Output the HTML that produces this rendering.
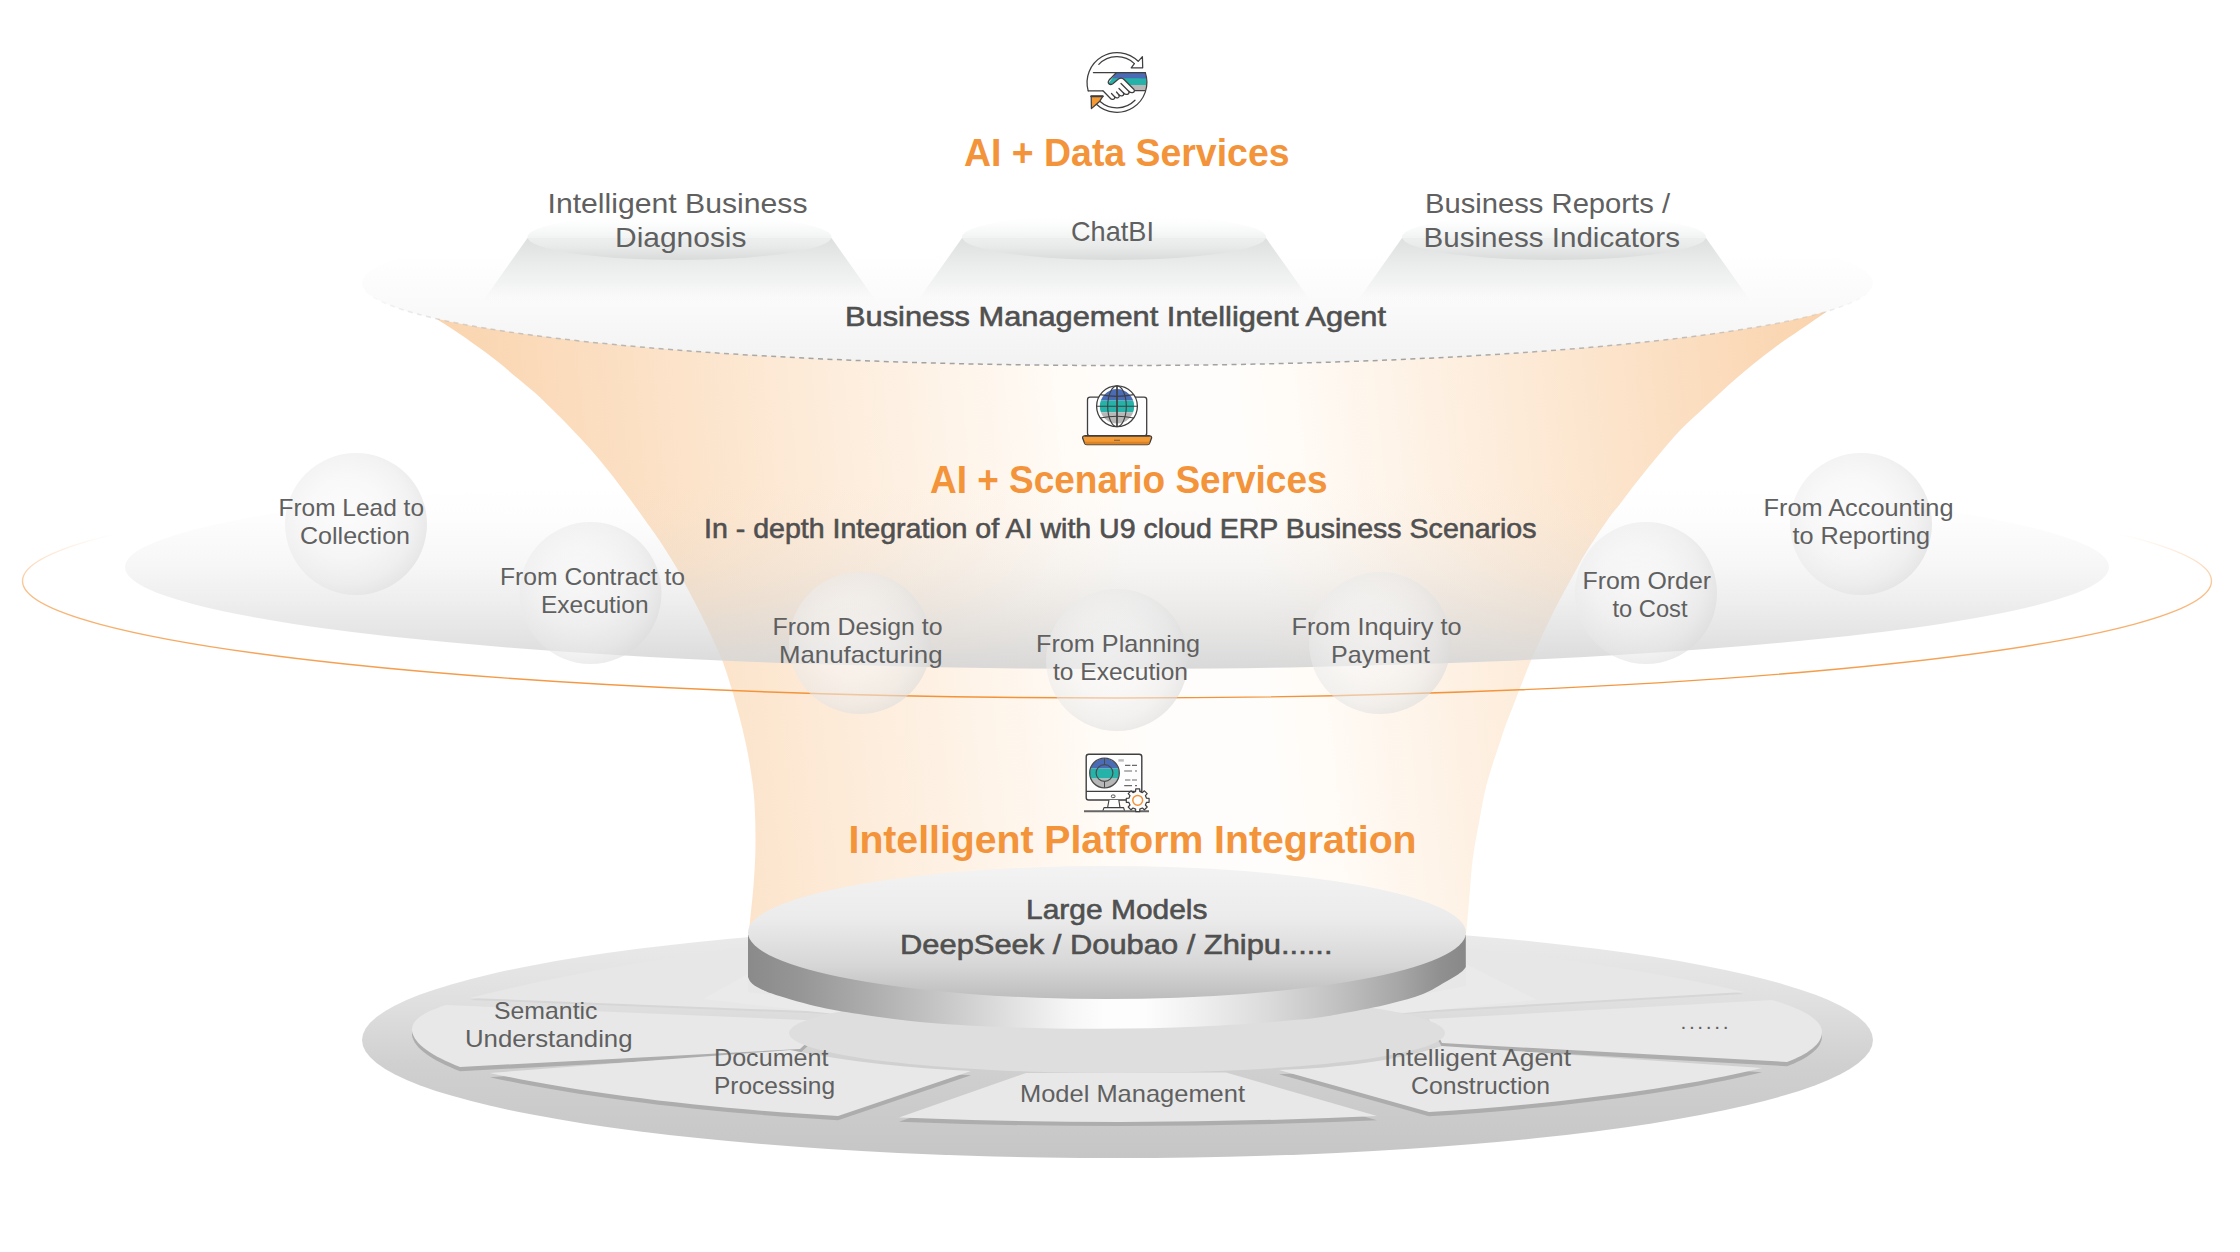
<!DOCTYPE html>
<html lang="en">
<head>
<meta charset="utf-8">
<title>AI Services Architecture</title>
<style>
html,body{margin:0;padding:0;background:#fff;}
body{width:2240px;height:1252px;overflow:hidden;font-family:"Liberation Sans",sans-serif;}
svg{display:block;}
text{font-family:"Liberation Sans",sans-serif;}
.h{font-weight:bold;fill:#f3933a;}
.m{fill:#505050;stroke:#505050;stroke-width:0.6;}
.r{fill:#606060;}
</style>
</head>
<body>
<svg width="2240" height="1252" viewBox="0 0 2240 1252">
<defs>
<linearGradient id="gFunnel" gradientUnits="userSpaceOnUse" x1="437" y1="380" x2="1809.3" y2="242.8">
  <stop offset="0" stop-color="#fad4ae"/>
  <stop offset="0.4500" stop-color="#fffbf6"/>
  <stop offset="0.4900" stop-color="#fffdfb"/>
  <stop offset="0.5750" stop-color="#fffdfb"/>
  <stop offset="0.6150" stop-color="#fffbf6"/>
  <stop offset="1" stop-color="#fad4ae"/>
</linearGradient>
<linearGradient id="gTopEll" x1="0" y1="0" x2="0" y2="1">
  <stop offset="0" stop-color="#ffffff"/>
  <stop offset="0.32" stop-color="#ffffff"/>
  <stop offset="0.62" stop-color="#fafafa"/>
  <stop offset="1" stop-color="#f2f2f3"/>
</linearGradient>
<linearGradient id="gDash" gradientUnits="userSpaceOnUse" x1="362" y1="0" x2="1873" y2="0">
  <stop offset="0" stop-color="#b4b4b4" stop-opacity="0"/>
  <stop offset="0.03" stop-color="#b4b4b4" stop-opacity="0.25"/>
  <stop offset="0.12" stop-color="#b4b4b4" stop-opacity="0.8"/>
  <stop offset="0.3" stop-color="#a2a2a2" stop-opacity="1"/>
  <stop offset="0.7" stop-color="#a2a2a2" stop-opacity="1"/>
  <stop offset="0.88" stop-color="#b4b4b4" stop-opacity="0.8"/>
  <stop offset="0.97" stop-color="#b4b4b4" stop-opacity="0.25"/>
  <stop offset="1" stop-color="#b4b4b4" stop-opacity="0"/>
</linearGradient>
<linearGradient id="gPodTop" x1="0" y1="0" x2="0" y2="1">
  <stop offset="0" stop-color="#ffffff" stop-opacity="0"/>
  <stop offset="0.3" stop-color="#f7f8f8" stop-opacity="0.7"/>
  <stop offset="0.7" stop-color="#e9ebeb"/>
  <stop offset="1" stop-color="#d9dbdb"/>
</linearGradient>
<linearGradient id="gPodBody" gradientUnits="userSpaceOnUse" x1="0" y1="236" x2="0" y2="303">
  <stop offset="0" stop-color="#dddfdf"/>
  <stop offset="0.32" stop-color="#e7e9e9"/>
  <stop offset="0.7" stop-color="#f0f1f1" stop-opacity="0.85"/>
  <stop offset="1" stop-color="#f6f6f6" stop-opacity="0"/>
</linearGradient>
<linearGradient id="gDisc" gradientUnits="userSpaceOnUse" x1="0" y1="465" x2="0" y2="669">
  <stop offset="0" stop-color="#d6d6d6" stop-opacity="0"/>
  <stop offset="0.10" stop-color="#d6d6d6" stop-opacity="0"/>
  <stop offset="0.27" stop-color="#d6d6d6" stop-opacity="0.05"/>
  <stop offset="0.50" stop-color="#d6d6d6" stop-opacity="0.21"/>
  <stop offset="0.66" stop-color="#d6d6d6" stop-opacity="0.40"/>
  <stop offset="0.80" stop-color="#d6d6d6" stop-opacity="0.60"/>
  <stop offset="0.90" stop-color="#d6d6d6" stop-opacity="0.76"/>
  <stop offset="1" stop-color="#d6d6d6" stop-opacity="0.92"/>
</linearGradient>
<linearGradient id="gRing" gradientUnits="userSpaceOnUse" x1="0" y1="464" x2="0" y2="698">
  <stop offset="0" stop-color="#f39237" stop-opacity="0"/>
  <stop offset="0.30" stop-color="#f39237" stop-opacity="0"/>
  <stop offset="0.55" stop-color="#f39237" stop-opacity="0.6"/>
  <stop offset="1" stop-color="#f39237" stop-opacity="1"/>
</linearGradient>
<radialGradient id="gSphere" cx="0.43" cy="0.46" r="0.62">
  <stop offset="0" stop-color="#fafafa" stop-opacity="0.58"/>
  <stop offset="0.45" stop-color="#f4f4f4" stop-opacity="0.57"/>
  <stop offset="0.75" stop-color="#e9e9e9" stop-opacity="0.57"/>
  <stop offset="0.92" stop-color="#dddddd" stop-opacity="0.6"/>
  <stop offset="1" stop-color="#d2d2d2" stop-opacity="0.62"/>
</radialGradient>
<linearGradient id="gPlat" gradientUnits="userSpaceOnUse" x1="0" y1="922" x2="0" y2="1158">
  <stop offset="0" stop-color="#ececec"/>
  <stop offset="0.35" stop-color="#dfdfdf"/>
  <stop offset="0.6" stop-color="#d0d0d0"/>
  <stop offset="1" stop-color="#c6c6c6"/>
</linearGradient>
<linearGradient id="gCylSide" gradientUnits="userSpaceOnUse" x1="748" y1="0" x2="1466" y2="0">
  <stop offset="0.0000" stop-color="#8a8a8a"/>
  <stop offset="0.0724" stop-color="#969696"/>
  <stop offset="0.1699" stop-color="#adadad"/>
  <stop offset="0.2674" stop-color="#c6c6c6"/>
  <stop offset="0.3649" stop-color="#e0e0e0"/>
  <stop offset="0.4485" stop-color="#f6f6f6"/>
  <stop offset="0.4972" stop-color="#fdfdfd"/>
  <stop offset="0.5529" stop-color="#fdfdfd"/>
  <stop offset="0.6295" stop-color="#efefef"/>
  <stop offset="0.7270" stop-color="#dadada"/>
  <stop offset="0.8245" stop-color="#c0c0c0"/>
  <stop offset="0.9081" stop-color="#a6a6a6"/>
  <stop offset="0.9638" stop-color="#909090"/>
  <stop offset="1.0000" stop-color="#888888"/>
</linearGradient>
<linearGradient id="gCylTop" x1="0" y1="0" x2="0" y2="1">
  <stop offset="0" stop-color="#f3f3f3"/>
  <stop offset="0.4" stop-color="#ebebeb"/>
  <stop offset="0.75" stop-color="#d6d6d6"/>
  <stop offset="1" stop-color="#bdbdbd"/>
</linearGradient>
<clipPath id="cpI1"><circle cx="1117" cy="82.5" r="29.8"/></clipPath><clipPath id="cpI2"><circle cx="1117" cy="406.3" r="17.2"/></clipPath><clipPath id="cpI3"><circle cx="1104.5" cy="773" r="14.6"/></clipPath></defs>
<rect width="2240" height="1252" fill="#ffffff"/>
<ellipse cx="1117.5" cy="1040" rx="755.5" ry="118" fill="url(#gPlat)"/>
<path d="M470,998 C560,975 660,958 760,945 L830,1012 Z" fill="#d6d6d6" transform="translate(0,2)"/>
<path d="M470,998 C560,975 660,958 760,945 L830,1012 Z" fill="#e7e7e7"/>
<path d="M1744,992 C1660,972 1560,958 1465,948 L1401,1012 Z" fill="#d6d6d6" transform="translate(0,2)"/>
<path d="M1744,992 C1660,972 1560,958 1465,948 L1401,1012 Z" fill="#e7e7e7"/>
<path d="M748,974 L703,999 L835,1014 L900,1010 L748,992 Z" fill="#eaeaea"/>
<path d="M1466,964 L1537,1000 L1405,1013 L1340,1010 L1466,986 Z" fill="#eaeaea"/>
<path d="M446,1005 C420,1013 411,1022 412,1031 C414,1044 432,1056 460,1067 L800,1049 L830,1021 Z" fill="#adadad" transform="translate(0,4.2)"/>
<path d="M446,1005 C420,1013 411,1022 412,1031 C414,1044 432,1056 460,1067 L800,1049 L830,1021 Z" fill="#e8e8e8"/>
<path d="M1772,1000 C1806,1010 1822,1021 1822,1032 C1822,1044 1808,1054 1787,1062 L1442,1043 L1429,1019 Z" fill="#adadad" transform="translate(0,4.2)"/>
<path d="M1772,1000 C1806,1010 1822,1021 1822,1032 C1822,1044 1808,1054 1787,1062 L1442,1043 L1429,1019 Z" fill="#e8e8e8"/>
<path d="M490,1073 L790,1050 C850,1062 910,1068 971,1071 L838,1116 C700,1108 580,1093 490,1073 Z" fill="#adadad" transform="translate(0,4.2)"/>
<path d="M490,1073 L790,1050 C850,1062 910,1068 971,1071 L838,1116 C700,1108 580,1093 490,1073 Z" fill="#e8e8e8"/>
<path d="M1762,1068 L1442,1046 C1400,1060 1340,1068 1279,1070 L1429,1112 C1560,1104 1680,1088 1762,1068 Z" fill="#adadad" transform="translate(0,4.2)"/>
<path d="M1762,1068 L1442,1046 C1400,1060 1340,1068 1279,1070 L1429,1112 C1560,1104 1680,1088 1762,1068 Z" fill="#e8e8e8"/>
<path d="M1026,1073 L1226,1072.5 L1377,1116 Q1138,1127 899,1117.5 Z" fill="#adadad" transform="translate(0,4.2)"/>
<path d="M1026,1073 L1226,1072.5 L1377,1116 Q1138,1127 899,1117.5 Z" fill="#e8e8e8"/>
<ellipse cx="1117" cy="1033" rx="328" ry="40" fill="#dedede"/>
<path d="M436.4,318.8 C440.7,321.6 452.4,329.0 462.0,335.6 C471.6,342.2 485.0,351.8 494.0,358.7 C503.0,365.6 509.0,371.1 516.0,376.9 C523.0,382.7 529.7,388.1 535.8,393.5 C541.9,398.9 546.7,403.9 552.4,409.5 C558.1,415.1 563.9,420.8 570.0,427.2 C576.1,433.6 582.8,440.5 589.2,447.8 C595.6,455.1 602.0,462.8 608.4,470.8 C614.8,478.8 621.4,487.5 627.5,495.7 C633.6,503.9 639.5,512.3 644.8,519.7 C650.1,527.1 653.8,531.9 659.2,540.0 C664.6,548.1 672.3,560.3 677.0,568.4 C681.7,576.5 684.1,582.1 687.5,588.5 C690.9,594.9 693.9,600.5 697.1,606.7 C700.3,612.9 703.5,619.2 706.7,625.9 C709.9,632.6 713.6,641.0 716.3,647.0 C719.0,653.0 720.5,655.4 723.0,662.2 C725.5,669.0 728.7,679.0 731.4,688.0 C734.1,697.0 736.8,706.7 739.2,716.0 C741.6,725.3 744.0,734.6 745.9,743.9 C747.8,753.2 749.5,762.4 750.9,771.8 C752.3,781.1 753.5,787.9 754.3,800.0 C755.1,812.1 755.6,830.7 755.5,844.5 C755.4,858.3 754.6,870.0 753.7,882.8 C752.8,895.5 751.0,911.5 750.0,921.0 C749.0,930.5 748.2,936.8 747.9,940.0 L1465.8,940 C1466.4,932.6 1468.3,909.4 1469.5,895.6 C1470.7,881.8 1471.3,869.8 1473.0,857.0 C1474.7,844.2 1477.4,831.3 1479.7,819.0 C1482.0,806.7 1483.5,796.2 1487.0,783.0 C1490.5,769.8 1497.4,750.2 1500.7,740.0 C1504.0,729.8 1504.8,727.5 1507.0,721.6 C1509.2,715.7 1511.2,711.0 1513.7,704.4 C1516.2,697.8 1519.4,689.6 1522.3,682.3 C1525.2,674.9 1528.0,667.5 1531.0,660.3 C1534.0,653.1 1536.7,647.5 1540.5,639.2 C1544.3,630.9 1550.2,618.5 1554.1,610.7 C1558.0,602.9 1560.2,599.0 1563.7,592.5 C1567.2,586.0 1571.4,578.3 1575.2,571.4 C1579.0,564.5 1581.3,559.8 1586.7,551.2 C1592.1,542.6 1602.0,527.9 1607.5,520.0 C1613.0,512.1 1615.9,509.2 1620.0,503.9 C1624.1,498.5 1627.9,493.2 1632.0,487.9 C1636.1,482.6 1640.0,477.6 1644.7,471.9 C1649.4,466.2 1654.0,460.4 1659.9,453.5 C1665.8,446.6 1672.7,438.2 1680.0,430.6 C1687.3,423.0 1696.0,415.3 1704.0,407.8 C1712.0,400.3 1719.9,392.8 1727.9,385.7 C1735.9,378.6 1743.9,371.8 1751.9,365.3 C1759.9,358.8 1767.8,352.6 1775.8,346.7 C1783.8,340.8 1791.3,335.9 1799.8,330.0 C1808.3,324.1 1822.3,314.5 1826.8,311.4 L1826.8,300 L436.4,300 Z" fill="url(#gFunnel)"/>
<path d="M748,935 L748,977 C748.5,977.9 749.3,980.8 751.0,982.5 C752.7,984.2 753.9,985.4 758.0,987.5 C762.1,989.6 765.5,991.7 775.9,995.0 C786.3,998.3 805.8,1004.0 820.6,1007.3 C835.5,1010.6 848.4,1012.6 865.0,1015.0 C881.6,1017.4 897.5,1019.9 920.0,1021.9 C942.5,1023.9 970.0,1025.8 1000.0,1027.0 C1030.0,1028.2 1066.7,1028.9 1100.0,1028.8 C1133.3,1028.7 1166.7,1028.0 1200.0,1026.5 C1233.3,1025.0 1275.9,1021.9 1300.0,1019.6 C1324.1,1017.4 1329.9,1015.6 1344.7,1013.0 C1359.5,1010.4 1376.0,1007.2 1389.0,1004.0 C1402.0,1000.8 1413.6,997.7 1423.0,994.0 C1432.4,990.3 1439.5,985.2 1445.3,982.0 C1451.1,978.8 1455.0,976.5 1458.0,974.5 C1461.0,972.5 1462.2,971.2 1463.5,970.0 C1464.8,968.8 1465.4,967.5 1465.8,967.0 L1465.8,935 Z" fill="url(#gCylSide)"/>
<ellipse cx="1107" cy="932.5" rx="359" ry="66.5" fill="url(#gCylTop)"/>
<ellipse cx="1117" cy="567" rx="992" ry="102" fill="url(#gDisc)"/>
<ellipse cx="1117" cy="581" rx="1094.5" ry="117" fill="none" stroke="url(#gRing)" stroke-width="1.4"/>
<circle cx="356" cy="524" r="71" fill="url(#gSphere)"/>
<circle cx="590.5" cy="593" r="71" fill="url(#gSphere)"/>
<circle cx="860" cy="643" r="71" fill="url(#gSphere)"/>
<circle cx="1117" cy="660" r="71" fill="url(#gSphere)"/>
<circle cx="1380" cy="643" r="71" fill="url(#gSphere)"/>
<circle cx="1646" cy="593" r="71" fill="url(#gSphere)"/>
<circle cx="1861" cy="524" r="71" fill="url(#gSphere)"/>
<ellipse cx="1117.5" cy="283" rx="755.5" ry="82.5" fill="url(#gTopEll)"/>
<path d="M362,283 A755.5,82.5 0 0 0 1873,283" fill="none" stroke="url(#gDash)" stroke-width="1.5" stroke-dasharray="5 4.4"/>
<path d="M527.5,238 L481.5,303 L877.5,303 L831.5,238 Z" fill="url(#gPodBody)"/>
<ellipse cx="679.5" cy="237" rx="152" ry="23" fill="url(#gPodTop)"/>
<path d="M962,238 L916,303 L1312,303 L1266,238 Z" fill="url(#gPodBody)"/>
<ellipse cx="1114" cy="237" rx="152" ry="23" fill="url(#gPodTop)"/>
<path d="M1402,238 L1356,303 L1752,303 L1706,238 Z" fill="url(#gPodBody)"/>
<ellipse cx="1554" cy="237" rx="152" ry="23" fill="url(#gPodTop)"/>
<g id="icon1" fill="none" stroke="#3f3f3f" stroke-width="1.25" stroke-linejoin="round" stroke-linecap="round">
<g clip-path="url(#cpI1)" stroke="none"><path d="M1116.2,72.6 L1150,72.6 L1150,79 L1110.4,79 Z" fill="#4a6bb6"/><path d="M1109.5,78.6 C1112,78 1150,78.6 1150,78.6 L1150,85 L1128,85 L1122,79.5 L1117,80 L1112,84 C1109,85.3 1107,83 1108.5,80.5 Z" fill="#25b3a9"/><rect x="1128" y="85" width="22" height="5.5" fill="#b7b7b7"/></g>
<path d="M1088.2,90.8 A30,30 0 0 1 1138.2,61.3"/>
<path d="M1098.8,64.4 A25.4,25.4 0 0 1 1134.4,63.6"/>
<path d="M1138.2,61.3 L1142.4,56.6 L1142.7,67.8 L1131.2,67.8 L1134.4,63.6" fill="#fff"/>
<path d="M1093.4,72.6 L1145.3,72.6"/>
<path d="M1088.2,90.8 L1103,90.8"/>
<path d="M1134,90.6 L1144.6,90.6"/>
<path d="M1145.3,72.6 A30,30 0 0 1 1096.4,104.2"/>
<path d="M1135,100.2 A25.4,25.4 0 0 1 1099.8,101.2"/>
<path d="M1091.2,96.3 L1102.8,96.3 L1099.8,101.2 L1096.4,104.2 L1091.4,108.6 Z" fill="#f39a35"/>
<path d="M1091.2,96.3 L1102.8,96.3" stroke-width="2"/>
<path d="M1103,90.8 L1110,98 C1112,100.5 1115,99.5 1114.8,97 C1117,99 1120,97.5 1119,95 C1121.5,97 1124.5,95.5 1123.5,93 C1126,95.5 1129.5,94.5 1129,91.5 C1132,94 1135.5,92 1134,89.5 L1124,79.5 C1122.5,78 1120,78 1118.5,79 L1112.5,84 C1109.5,85.5 1107,83 1109,80.3 L1116,73" fill="#fff"/>
<path d="M1114.8,97 L1111.5,93.5 M1119,95 L1116.5,92 M1123.5,93 L1119,88.5 M1129,91.5 L1121,83.5"/>
</g>
<g id="icon2" fill="none" stroke="#3f3f3f" stroke-width="1.3" stroke-linejoin="round">
<rect x="1087.5" y="397.2" width="59.2" height="38.6" rx="2.6" fill="#fefefe"/>
<circle cx="1117" cy="406.3" r="20.4" fill="#fff"/>
<g clip-path="url(#cpI2)" stroke="none"><rect x="1096" y="385" width="42" height="15.6" fill="#4a6bb6"/><rect x="1096" y="400.6" width="42" height="11.6" fill="#25b3a9"/><rect x="1096" y="412.2" width="42" height="14" fill="#b7b7b7"/></g>
<path d="M1117,385.9 V426.7" stroke-width="1.7"/>
<path d="M1096.6,406.3 H1137.4" stroke-width="1.1"/>
<ellipse cx="1117" cy="406.3" rx="9.3" ry="20.4" stroke-width="1.1"/>
<path d="M1100.2,394.6 Q1117,398.2 1133.8,394.6 M1100.2,418 Q1117,414.4 1133.8,418" stroke-width="1.1"/>
<path d="M1084.6,435.8 H1149.6 Q1151.8,435.8 1151.6,438 L1149.8,442.8 Q1149.2,444.6 1147.4,444.6 H1086.8 Q1085,444.6 1084.4,442.8 L1082.6,438 Q1082.4,435.8 1084.6,435.8 Z" fill="#f39a35"/>
<path d="M1084.6,441.8 H1149.6 L1149.2,443.6 Q1148.8,444.6 1147.4,444.6 H1086.8 Q1085.4,444.6 1085,443.6 Z" fill="#d98428" stroke="none"/>
<path d="M1084.6,435.8 H1149.6" stroke-width="1.6"/>
<path d="M1114,440.3 H1120" stroke="#8a6a45" stroke-width="1.2"/>
</g>
<g id="icon3" fill="none" stroke="#3f3f3f" stroke-width="1.4" stroke-linejoin="round">
<rect x="1086.2" y="754.2" width="55.6" height="45.8" rx="2.6" fill="#fefefe"/>
<path d="M1086.2,791.4 H1141.8" stroke-width="1.2"/>
<rect x="1111.4" y="795" width="3.6" height="2.6" rx="1" stroke-width="0.9"/>
<path d="M1109,800 L1107.6,807.6 H1120 L1118.8,800" stroke-width="1.1" fill="#fefefe"/>
<path d="M1102.8,811 L1104,807.6 H1123.6 L1124.6,811" stroke-width="1.1" fill="#fefefe"/>
<path d="M1084,811.2 H1149" stroke="#666" stroke-width="2"/>
<g clip-path="url(#cpI3)" stroke="none"><rect x="1089" y="757" width="31" height="11.6" fill="#4a6bb6"/><rect x="1089" y="768.6" width="31" height="10" fill="#25b3a9"/><rect x="1089" y="778.6" width="31" height="10" fill="#b7b7b7"/></g>
<circle cx="1104.5" cy="773" r="14.8" stroke="#4a4a4a" stroke-width="1.3"/>
<circle cx="1104.5" cy="773" r="8.4" stroke="#4a4a4a" stroke-width="1.2"/>
<path d="M1104.5,758.2 V764.6 M1104.5,781.4 V787.8" stroke="#4a4a4a" stroke-width="1"/>
<rect x="1118.4" y="759.2" width="5.4" height="2.4" fill="#bdbdbd" stroke="none"/>
<path d="M1125,765.4 H1130.4 M1132,765.4 H1137 M1124.2,771 H1132 M1135,771 H1137 M1125,780 H1130.4 M1132,780 H1137 M1124.2,785.6 H1132 M1135,785.6 H1137" stroke="#6a6a6a" stroke-width="1.1"/>
<path d="M1149.1,798.3 L1149.1,802.3 L1146.5,802.4 L1145.4,805.0 L1147.2,807.0 L1144.4,809.8 L1142.4,808.0 L1139.8,809.1 L1139.7,811.7 L1135.7,811.7 L1135.6,809.1 L1133.0,808.0 L1131.0,809.8 L1128.2,807.0 L1130.0,805.0 L1128.9,802.4 L1126.3,802.3 L1126.3,798.3 L1128.9,798.2 L1130.0,795.6 L1128.2,793.6 L1131.0,790.8 L1133.0,792.6 L1135.6,791.5 L1135.7,788.9 L1139.7,788.9 L1139.8,791.5 L1142.4,792.6 L1144.4,790.8 L1147.2,793.6 L1145.4,795.6 L1146.5,798.2 Z" fill="#fdfdfd" stroke-width="1.2" stroke-linejoin="round"/>
<circle cx="1137.7" cy="800.3" r="4.9" stroke="#f39237" stroke-width="1.5" fill="#fff"/>
</g>
<text class="h" x="964" y="166" font-size="38" textLength="325.5" lengthAdjust="spacingAndGlyphs">AI + Data Services</text>
<text class="r" x="547.5" y="212.5" font-size="28" textLength="260.0" lengthAdjust="spacingAndGlyphs">Intelligent Business</text>
<text class="r" x="615" y="246.5" font-size="28" textLength="131.5" lengthAdjust="spacingAndGlyphs">Diagnosis</text>
<text class="r" x="1071" y="241" font-size="28" textLength="83" lengthAdjust="spacingAndGlyphs">ChatBI</text>
<text class="r" x="1425" y="212.5" font-size="28" textLength="245" lengthAdjust="spacingAndGlyphs">Business Reports /</text>
<text class="r" x="1423.5" y="246.5" font-size="28" textLength="256.5" lengthAdjust="spacingAndGlyphs">Business Indicators</text>
<text class="m" x="845" y="326" font-size="28" textLength="541" lengthAdjust="spacingAndGlyphs">Business Management Intelligent Agent</text>
<text class="h" x="930" y="493" font-size="38" textLength="397.5" lengthAdjust="spacingAndGlyphs">AI + Scenario Services</text>
<text class="m" x="704" y="537.5" font-size="28" textLength="832.5" lengthAdjust="spacingAndGlyphs">In - depth Integration of AI with U9 cloud ERP Business Scenarios</text>
<text class="h" x="848.5" y="852.5" font-size="38" textLength="568.0" lengthAdjust="spacingAndGlyphs">Intelligent Platform Integration</text>
<text class="m" x="1026" y="919" font-size="28" textLength="181.5" lengthAdjust="spacingAndGlyphs">Large Models</text>
<text class="m" x="900" y="953.5" font-size="28" textLength="432.5" lengthAdjust="spacingAndGlyphs">DeepSeek / Doubao / Zhipu......</text>
<text class="r" x="278.5" y="516" font-size="24" textLength="145.5" lengthAdjust="spacingAndGlyphs">From Lead to</text>
<text class="r" x="300" y="544" font-size="24" textLength="110" lengthAdjust="spacingAndGlyphs">Collection</text>
<text class="r" x="500" y="585" font-size="24" textLength="185" lengthAdjust="spacingAndGlyphs">From Contract to</text>
<text class="r" x="541" y="612.5" font-size="24" textLength="107.5" lengthAdjust="spacingAndGlyphs">Execution</text>
<text class="r" x="772.5" y="635" font-size="24" textLength="170.0" lengthAdjust="spacingAndGlyphs">From Design to</text>
<text class="r" x="779" y="662.5" font-size="24" textLength="163.5" lengthAdjust="spacingAndGlyphs">Manufacturing</text>
<text class="r" x="1036" y="652" font-size="24" textLength="164" lengthAdjust="spacingAndGlyphs">From Planning</text>
<text class="r" x="1053" y="680" font-size="24" textLength="135" lengthAdjust="spacingAndGlyphs">to Execution</text>
<text class="r" x="1291.5" y="635" font-size="24" textLength="170.0" lengthAdjust="spacingAndGlyphs">From Inquiry to</text>
<text class="r" x="1331" y="662.5" font-size="24" textLength="99" lengthAdjust="spacingAndGlyphs">Payment</text>
<text class="r" x="1582.5" y="589" font-size="24" textLength="128.5" lengthAdjust="spacingAndGlyphs">From Order</text>
<text class="r" x="1612.5" y="616.5" font-size="24" textLength="75.0" lengthAdjust="spacingAndGlyphs">to Cost</text>
<text class="r" x="1763.5" y="516" font-size="24" textLength="190.0" lengthAdjust="spacingAndGlyphs">From Accounting</text>
<text class="r" x="1792.5" y="544" font-size="24" textLength="137.5" lengthAdjust="spacingAndGlyphs">to Reporting</text>
<text class="r" x="494" y="1019" font-size="24" textLength="103.5" lengthAdjust="spacingAndGlyphs">Semantic</text>
<text class="r" x="465" y="1046.5" font-size="24" textLength="167.5" lengthAdjust="spacingAndGlyphs">Understanding</text>
<text class="r" x="714" y="1066" font-size="24" textLength="114.5" lengthAdjust="spacingAndGlyphs">Document</text>
<text class="r" x="714" y="1093.5" font-size="24" textLength="121" lengthAdjust="spacingAndGlyphs">Processing</text>
<text class="r" x="1020" y="1101.5" font-size="24" textLength="225" lengthAdjust="spacingAndGlyphs">Model Management</text>
<text class="r" x="1384" y="1066" font-size="24" textLength="187" lengthAdjust="spacingAndGlyphs">Intelligent Agent</text>
<text class="r" x="1411" y="1093.5" font-size="24" textLength="139" lengthAdjust="spacingAndGlyphs">Construction</text>
<text class="r" x="1680.5" y="1029" font-size="21" textLength="48.0" lengthAdjust="spacing">......</text>
</svg>
</body>
</html>
